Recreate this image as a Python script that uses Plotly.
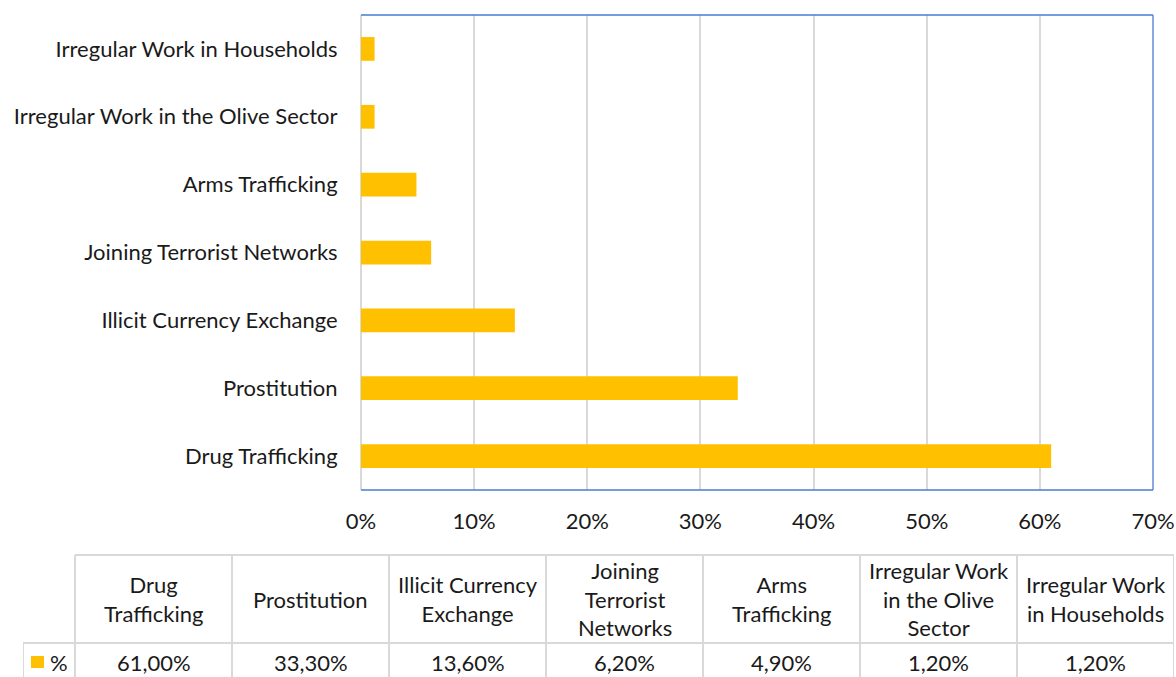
import plotly.graph_objects as go

categories = ["Drug Trafficking", "Prostitution", "Illicit Currency Exchange",
              "Joining Terrorist Networks", "Arms Trafficking",
              "Irregular Work in the Olive Sector", "Irregular Work in Households"]
header_labels = ["Drug<br>Trafficking", "Prostitution", "Illicit Currency<br>Exchange",
                 "Joining<br>Terrorist<br>Networks", "Arms<br>Trafficking",
                 "Irregular Work<br>in the Olive<br>Sector", "Irregular Work<br>in Households"]
values = [0.610, 0.333, 0.136, 0.062, 0.049, 0.012, 0.012]
value_labels = ["61,00%", "33,30%", "13,60%", "6,20%", "4,90%", "1,20%", "1,20%"]
series_name = "%"
x_ticks = [0, 0.1, 0.2, 0.3, 0.4, 0.5, 0.6, 0.7]

W, H = 1176, 677
FONT = "Lato"
FS = 22
TXT = "#1a1a1a"
BAR = "#FFC000"
GRID = "#D9D9D9"
BORDER = "#4A7BD0"

def px_x(p):
    return p / W

def px_y(p):
    return 1 - p / H

fig = go.Figure()
fig.add_trace(go.Bar(x=values, y=categories, orientation="h",
                     marker=dict(color=BAR, line=dict(width=0)),
                     hoverinfo="x+y", showlegend=False))
# invisible trace to instantiate table axes
fig.add_trace(go.Scatter(x=[0, len(categories)], y=[0, 1], mode="none",
                         xaxis="x2", yaxis="y2", showlegend=False, hoverinfo="skip"))

n = len(categories)
key_w = 52 / 157

shapes = []
annotations = []
# plot border (top, right, bottom) in blue
for (x0, y0, x1, y1) in [(0, 1, 1, 1), (1, 0, 1, 1), (0, 0, 1, 0)]:
    shapes.append(dict(type="line", xref="x domain", yref="y domain",
                       x0=x0, y0=y0, x1=x1, y1=y1,
                       line=dict(color=BORDER, width=1.3), layer="above"))

# table: y in paper coordinates
y_top = px_y(555)
y_mid = px_y(643)
y_bot = px_y(679)
shapes.append(dict(type="line", xref="x2", yref="paper", x0=0, x1=n, y0=y_top, y1=y_top,
                   line=dict(color=GRID, width=2)))
shapes.append(dict(type="line", xref="x2", yref="paper", x0=-key_w, x1=n, y0=y_mid, y1=y_mid,
                   line=dict(color=GRID, width=2)))
for i in range(n + 1):
    shapes.append(dict(type="line", xref="x2", yref="paper", x0=i, x1=i, y0=y_top, y1=y_bot,
                       line=dict(color=GRID, width=2)))
shapes.append(dict(type="line", xref="x2", yref="paper", x0=-key_w, x1=-key_w, y0=y_mid, y1=y_bot,
                   line=dict(color=GRID, width=2)))
# legend key square
shapes.append(dict(type="rect", xref="paper", yref="paper",
                   x0=px_x(31), x1=px_x(44), y0=px_y(668), y1=px_y(656),
                   fillcolor=BAR, line=dict(width=0)))

for i in range(n):
    annotations.append(dict(xref="x2", yref="paper", x=i + 0.5, y=px_y(599),
                            text=header_labels[i], showarrow=False,
                            font=dict(family=FONT, size=FS, color=TXT),
                            xanchor="center", yanchor="middle", align="center"))
    annotations.append(dict(xref="x2", yref="paper", x=i + 0.5, y=px_y(662),
                            text=value_labels[i], showarrow=False,
                            font=dict(family=FONT, size=FS, color=TXT),
                            xanchor="center", yanchor="middle"))
annotations.append(dict(xref="paper", yref="paper", x=px_x(48), y=px_y(662),
                        text=series_name, showarrow=False,
                        font=dict(family=FONT, size=FS, color=TXT),
                        xanchor="left", yanchor="middle"))

fig.update_layout(
    width=W, height=H,
    margin=dict(l=0, r=0, t=0, b=0, autoexpand=False),
    paper_bgcolor="white", plot_bgcolor="white",
    font=dict(family=FONT, size=FS, color=TXT),
    bargap=0.65,
    xaxis=dict(domain=[px_x(361), px_x(1153)], range=[0, 0.7],
               tickvals=x_ticks, tickformat=".0%",
               showgrid=True, gridcolor=GRID, gridwidth=2,
               zeroline=True, zerolinecolor=GRID, zerolinewidth=2,
               ticks="outside", ticklen=12, tickcolor="rgba(0,0,0,0)",
               showline=False, fixedrange=True, automargin=False),
    yaxis=dict(domain=[px_y(490), px_y(15)], type="category",
               categoryorder="array", categoryarray=categories,
               range=[-0.5, n - 0.5],
               ticks="outside", ticklen=18, tickcolor="rgba(0,0,0,0)",
               showgrid=False, zeroline=False, showline=False, fixedrange=True,
               automargin=False),
    xaxis2=dict(domain=[px_x(23), px_x(1174)], range=[-key_w, n],
                anchor="y2", visible=False, fixedrange=True, automargin=False),
    yaxis2=dict(domain=[0, px_y(555)], range=[0, 1], anchor="x2",
                visible=False, fixedrange=True, automargin=False),
    shapes=shapes,
    annotations=annotations,
)

fig.write_html("out.html")
